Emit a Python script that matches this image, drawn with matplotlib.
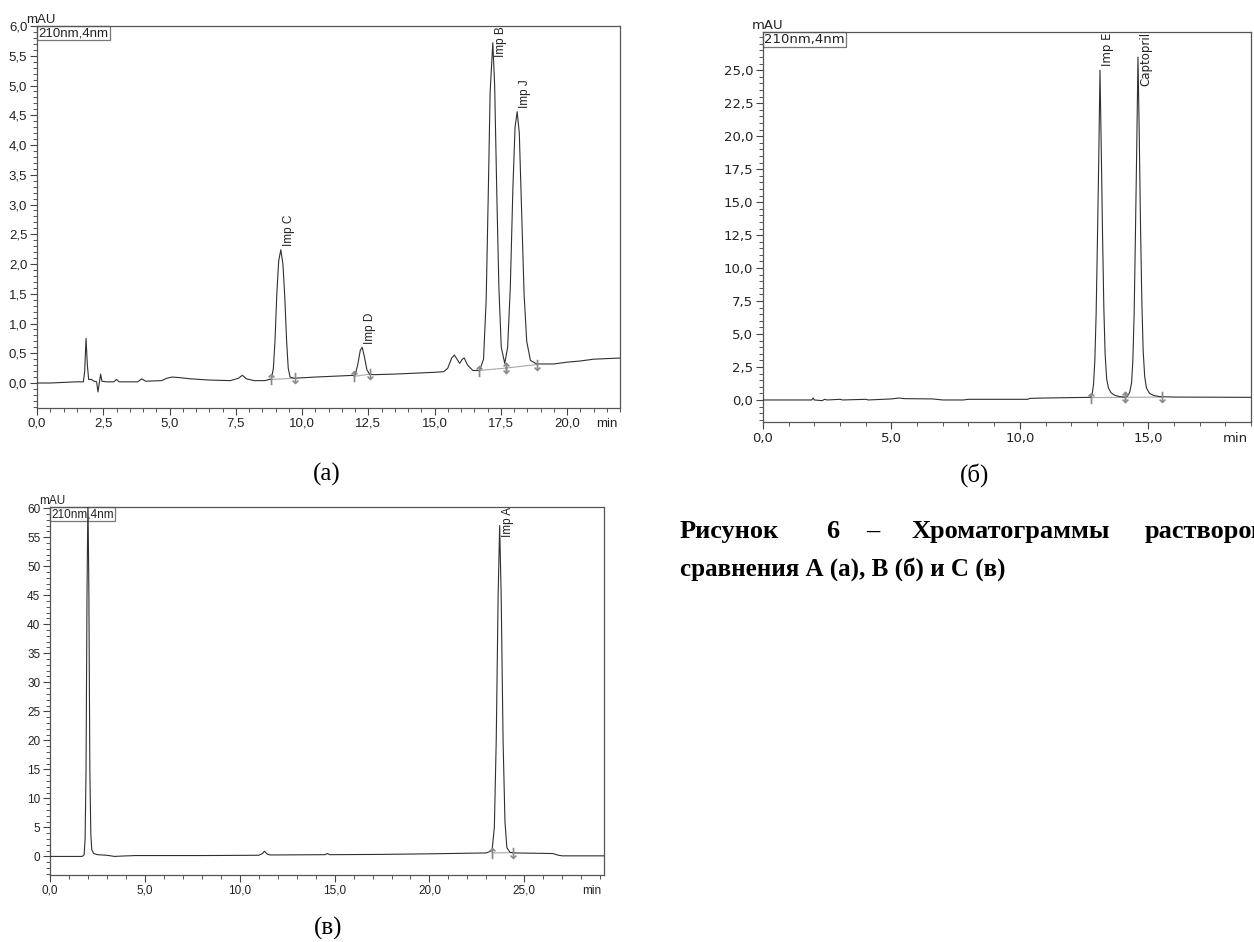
import matplotlib.pyplot as plt
from matplotlib.ticker import FixedLocator, MultipleLocator

# ---- хроматограмма (а): время, мин / сигнал, mAU
a_t = [0.0, 0.5, 1.0, 1.5, 1.75, 1.80, 1.85, 1.90, 1.95, 2.05, 2.15, 2.25, 2.30, 2.35, 2.40, 2.45,
       2.6, 2.9, 3.0, 3.1, 3.8, 3.95, 4.1, 4.7, 4.9, 5.1, 5.4, 5.8, 6.5, 7.3, 7.6, 7.75, 7.9, 8.2,
       8.6, 8.85, 8.92, 8.98, 9.05, 9.12, 9.2, 9.28, 9.35, 9.42, 9.48, 9.55, 9.7, 10.5, 11.5, 12.0,
       12.1, 12.2, 12.27, 12.35, 12.45, 12.55, 12.7, 13.5, 14.5, 15.0, 15.35, 15.5, 15.65, 15.75,
       15.85, 15.95, 16.05, 16.12, 16.25, 16.45, 16.7, 16.85, 16.95, 17.03, 17.1, 17.2, 17.27,
       17.35, 17.43, 17.52, 17.65, 17.76, 17.86, 17.96, 18.04, 18.12, 18.2, 18.28, 18.38, 18.48,
       18.62, 18.85, 19.5, 20.0, 20.5, 21.0, 21.5, 22.0]
a_y = [0.00, 0.00, 0.01, 0.02, 0.02, 0.20, 0.75, 0.30, 0.06, 0.06, 0.03, 0.02, -0.15, 0.00, 0.15, 0.03,
       0.02, 0.02, 0.06, 0.02, 0.02, 0.07, 0.03, 0.04, 0.08, 0.10, 0.09, 0.07, 0.05, 0.04, 0.08, 0.13, 0.07, 0.04,
       0.04, 0.07, 0.25, 0.70, 1.50, 2.05, 2.24, 2.00, 1.45, 0.70, 0.25, 0.10, 0.08, 0.10, 0.12, 0.13,
       0.30, 0.55, 0.60, 0.45, 0.22, 0.15, 0.14, 0.15, 0.17, 0.18, 0.19, 0.25, 0.42, 0.47,
       0.40, 0.33, 0.40, 0.42, 0.30, 0.21, 0.21, 0.40, 1.40, 3.20, 4.90, 5.72, 5.00,
       3.20, 1.60, 0.60, 0.33, 0.60, 1.60, 3.30, 4.30, 4.56, 4.20, 3.00, 1.50, 0.70,
       0.38, 0.32, 0.32, 0.35, 0.37, 0.40, 0.41, 0.42]
a_names = ['Imp C', 'Imp D', 'Imp B', 'Imp J']
a_peak_t = [9.2, 12.27, 17.2, 18.12]
a_peak_h = [2.24, 0.60, 5.72, 4.56]
a_start_t = [8.82, 11.95, 16.68, 17.68]
a_start_y = [0.06, 0.11, 0.21, 0.25]
a_end_t = [9.75, 12.58, 17.68, 18.85]
a_end_y = [0.08, 0.15, 0.25, 0.31]
a_yticks = [0.0, 0.5, 1.0, 1.5, 2.0, 2.5, 3.0, 3.5, 4.0, 4.5, 5.0, 5.5, 6.0]
a_ylabels = ['0,0', '0,5', '1,0', '1,5', '2,0', '2,5', '3,0', '3,5', '4,0', '4,5', '5,0', '5,5', '6,0']
a_xticks = [0.0, 2.5, 5.0, 7.5, 10.0, 12.5, 15.0, 17.5, 20.0]
a_xlabels = ['0,0', '2,5', '5,0', '7,5', '10,0', '12,5', '15,0', '17,5', '20,0']

# ---- хроматограмма (б)
b_t = [0.0, 1.9, 1.95, 2.0, 2.3, 2.4, 2.5, 3.0, 3.1, 4.0, 4.1, 5.0, 5.3, 5.5, 6.6, 7.0, 7.8, 8.0,
       10.3, 10.4, 11.0, 12.0, 12.75, 12.82, 12.87, 12.92, 12.97, 13.02, 13.07, 13.12, 13.17, 13.22,
       13.27, 13.32, 13.38, 13.45, 13.55, 13.7, 13.9, 14.05, 14.2, 14.28, 14.35, 14.4, 14.45, 14.5,
       14.55, 14.6, 14.65, 14.7, 14.75, 14.8, 14.86, 14.93, 15.05, 15.2, 15.45, 16.0, 19.0]
b_y = [0.0, 0.0, 0.15, 0.0, -0.05, 0.05, 0.0, 0.05, 0.0, 0.05, 0.0, 0.08, 0.15, 0.10, 0.08, 0.0, 0.0, 0.05,
       0.05, 0.12, 0.15, 0.18, 0.20, 0.50, 1.2, 3.0, 6.5, 12.0, 18.0, 25.0, 19.0, 12.5,
       7.0, 3.5, 1.6, 0.9, 0.55, 0.35, 0.25, 0.22, 0.30, 0.60, 1.3, 3.0, 6.5, 12.5,
       19.0, 26.0, 20.0, 13.0, 7.5, 3.8, 1.8, 0.9, 0.5, 0.35, 0.25, 0.22, 0.20]
b_names = ['Imp E', 'Captopril']
b_peak_t = [13.12, 14.6]
b_peak_h = [25.0, 26.0]
b_start_t = [12.78, 14.1]
b_start_y = [0.18, 0.2]
b_end_t = [14.1, 15.55]
b_end_y = [0.2, 0.22]
b_yticks = [0.0, 2.5, 5.0, 7.5, 10.0, 12.5, 15.0, 17.5, 20.0, 22.5, 25.0]
b_ylabels = ['0,0', '2,5', '5,0', '7,5', '10,0', '12,5', '15,0', '17,5', '20,0', '22,5', '25,0']
b_xticks = [0.0, 5.0, 10.0, 15.0]
b_xlabels = ['0,0', '5,0', '10,0', '15,0']

# ---- хроматограмма (в)
c_t = [0.0, 1.7, 1.8, 1.85, 1.9, 1.95, 2.0, 2.05, 2.1, 2.15, 2.2, 2.3, 2.5, 3.0, 3.4, 3.7, 4.5,
       8.0, 11.0, 11.2, 11.3, 11.45, 11.6, 14.5, 14.6, 14.75, 17.5, 20.0, 23.0, 23.3, 23.42, 23.52,
       23.62, 23.7, 23.78, 23.88, 23.98, 24.08, 24.25, 24.5, 26.5, 26.8, 27.0, 29.2]
c_y = [0.0, 0.0, 0.3, 3.0, 15.0, 45.0, 62.0, 45.0, 15.0, 4.0, 1.2, 0.5, 0.3, 0.2, 0.0, 0.05, 0.15,
       0.15, 0.2, 0.5, 0.9, 0.4, 0.25, 0.3, 0.5, 0.3, 0.35, 0.45, 0.6, 1.0, 5.0, 20.0,
       45.0, 57.0, 45.0, 20.0, 6.0, 1.5, 0.7, 0.6, 0.5, 0.2, 0.1, 0.1]
c_names = ['Imp A']
c_peak_t = [23.7]
c_peak_h = [57.0]
c_start_t = [23.3]
c_start_y = [0.6]
c_end_t = [24.4]
c_end_y = [0.65]
c_yticks = [0, 5, 10, 15, 20, 25, 30, 35, 40, 45, 50, 55, 60]
c_ylabels = ['0', '5', '10', '15', '20', '25', '30', '35', '40', '45', '50', '55', '60']
c_xticks = [0.0, 5.0, 10.0, 15.0, 20.0, 25.0]
c_xlabels = ['0,0', '5,0', '10,0', '15,0', '20,0', '25,0']

W, H = 1254, 942
fig = plt.figure(figsize=(W / 100, H / 100), dpi=100)
fig.patch.set_facecolor('white')


def px_axes(left, top, right, bottom):
    return fig.add_axes([left / W, 1 - bottom / H, (right - left) / W, (bottom - top) / H])


def chrom(ax, t, y, xlim, ylim, xt, xl, yt, yl, xminor, yminor, font, fs):
    ax.plot(t, y, color='#303030', lw=0.8, zorder=3, clip_on=True)
    ax.set_xlim(*xlim)
    ax.set_ylim(*ylim)
    ax.xaxis.set_major_locator(FixedLocator(xt))
    ax.set_xticklabels(xl)
    ax.yaxis.set_major_locator(FixedLocator(yt))
    ax.set_yticklabels(yl)
    ax.xaxis.set_minor_locator(MultipleLocator(xminor))
    ax.yaxis.set_minor_locator(MultipleLocator(yminor))
    ax.tick_params(which='major', direction='out', length=5, width=0.8, color='#444444',
                   labelsize=fs, pad=2)
    ax.tick_params(which='minor', direction='out', length=3, width=0.7, color='#555555')
    for lab in ax.get_xticklabels() + ax.get_yticklabels():
        lab.set_family(font)
        lab.set_color('#222222')
    for s in ax.spines.values():
        s.set_color('#555555')
        s.set_linewidth(0.9)
    ax.annotate('min', xy=(1, 0), xycoords='axes fraction', xytext=(-2, -7),
                textcoords='offset points', ha='right', va='top', fontsize=fs,
                family=font, color='#222222')
    ax.annotate('mAU', xy=(0, 1), xycoords='axes fraction', xytext=(-8, 0),
                textcoords='offset points', ha='left', va='bottom', fontsize=fs,
                family=font, color='#222222')
    ax.text(0.003, 0.997, '210nm,4nm', transform=ax.transAxes, ha='left', va='top',
            fontsize=fs, family=font, color='#222222', zorder=1,
            bbox=dict(boxstyle='square,pad=0.1', fc='white', ec='#777777', lw=0.9))


def marks(ax, st, sy, et, ey, ms):
    for i in range(len(st)):
        ax.plot([st[i], et[i]], [sy[i], ey[i]], color='#a8a8a8', lw=0.8, zorder=2)
    ax.plot(st, sy, ls='none', marker=r'$\uparrow$', ms=ms, color='#8a8a8a', mew=0.2, zorder=4)
    ax.plot(et, ey, ls='none', marker=r'$\downarrow$', ms=ms, color='#8a8a8a', mew=0.2, zorder=4)


def names(ax, nm, pt, ph, dx, dy, fs, font, top=()):
    for i in range(len(nm)):
        if nm[i] in top:
            ax.text(pt[i] + dx, ax.get_ylim()[1], nm[i], rotation=90, ha='left', va='top',
                    fontsize=fs, family=font, color='#222222', clip_on=True)
        else:
            ax.text(pt[i] + dx, ph[i] + dy, nm[i], rotation=90, ha='left', va='bottom',
                    fontsize=fs, family=font, color='#222222', clip_on=True)


# (а)
ax1 = px_axes(37, 26, 620, 408)
chrom(ax1, a_t, a_y, (0, 22.0), (-0.42, 6.0), a_xticks, a_xlabels, a_yticks, a_ylabels,
      0.5, 0.1, 'Liberation Sans', 9.5)
marks(ax1, a_start_t, a_start_y, a_end_t, a_end_y, 8)
names(ax1, a_names, a_peak_t, a_peak_h, 0.08, 0.06, 8.5, 'Liberation Sans', top=['Imp B'])

# (б)
ax2 = px_axes(763, 32, 1251, 422)
chrom(ax2, b_t, b_y, (0, 19.0), (-1.67, 27.9), b_xticks, b_xlabels, b_yticks, b_ylabels,
      1.0, 0.5, 'DejaVu Sans', 9.5)
marks(ax2, b_start_t, b_start_y, b_end_t, b_end_y, 8)
names(ax2, b_names, b_peak_t, b_peak_h, 0.05, 0.3, 8.5, 'DejaVu Sans', top=['Captopril'])

# (в)
ax3 = px_axes(50, 507, 604, 875)
chrom(ax3, c_t, c_y, (0, 29.2), (-3.2, 60.2), c_xticks, c_xlabels, c_yticks, c_ylabels,
      1.0, 1.0, 'Liberation Sans', 8.5)
marks(ax3, c_start_t, c_start_y, c_end_t, c_end_y, 8)
names(ax3, c_names, c_peak_t, c_peak_h, 0.1, 0.5, 8.5, 'Liberation Sans', top=['Imp A'])

# подписи
serif = 'Liberation Serif'
fig.text(327 / W, 1 - 474 / H, '(а)', ha='center', va='center', fontsize=18, family=serif)
fig.text(975 / W, 1 - 475 / H, '(б)', ha='center', va='center', fontsize=18, family=serif)
fig.text(328 / W, 1 - 928 / H, '(в)', ha='center', va='center', fontsize=18, family=serif)

cap_words = ['Рисунок', '6', '–', 'Хроматограммы', 'растворов']
cap_x = [680, 826, 866, 912, 1145]
for w, x in zip(cap_words, cap_x):
    fig.text(x / W, 1 - 538 / H, w, ha='left', va='baseline', fontsize=19, family=serif,
             weight='bold')
fig.text(680 / W, 1 - 576 / H, 'сравнения А (а), В (б) и С (в)', ha='left', va='baseline',
         fontsize=18, family=serif, weight='bold')

fig.savefig('out.png', dpi=100, facecolor='white')
